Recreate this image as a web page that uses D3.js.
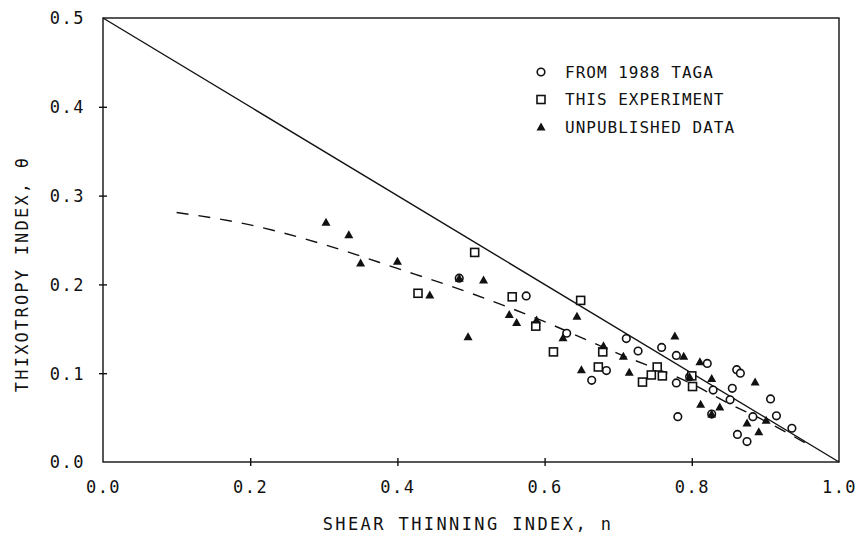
<!DOCTYPE html>
<html>
<head>
<meta charset="utf-8">
<script src="https://cdn.jsdelivr.net/npm/d3@7"></script>
<style>
  html, body { margin: 0; padding: 0; background: #fff; }
  svg text { font-family: "DejaVu Sans Mono", "Liberation Mono", monospace; fill: #111; }
</style>
</head>
<body>
<svg id="chart" width="864" height="537"></svg>
<script>
// Shear thinning index n vs thixotropy index theta
const xTicks = [0.0, 0.2, 0.4, 0.6, 0.8, 1.0];
const yTicks = [0.0, 0.1, 0.2, 0.3, 0.4, 0.5];
const legendLabels = ["FROM 1988 TAGA", "THIS EXPERIMENT", "UNPUBLISHED DATA"];

// FROM 1988 TAGA (open circles)
const tagaN = [0.575, 0.630, 0.711, 0.727, 0.759, 0.779, 0.821, 0.861, 0.866, 0.907, 0.915,
               0.684, 0.664, 0.779, 0.829, 0.855, 0.852, 0.781, 0.883, 0.936, 0.875, 0.862,
               0.484, 0.827, 0.797];
const tagaT = [0.187, 0.145, 0.139, 0.125, 0.129, 0.120, 0.111, 0.104, 0.100, 0.071, 0.052,
               0.103, 0.092, 0.089, 0.081, 0.083, 0.070, 0.051, 0.051, 0.038, 0.023, 0.031,
               0.207, 0.054, 0.096];

// THIS EXPERIMENT (open squares)
const expN = [0.505, 0.428, 0.556, 0.588, 0.649, 0.612, 0.679, 0.673, 0.753, 0.745, 0.760,
              0.733, 0.801, 0.800];
const expT = [0.236, 0.190, 0.186, 0.153, 0.182, 0.124, 0.124, 0.107, 0.107, 0.098, 0.097,
              0.090, 0.085, 0.097];

// UNPUBLISHED DATA (filled triangles)
const unpN = [0.303, 0.334, 0.350, 0.400, 0.444, 0.496, 0.517, 0.552, 0.562, 0.589, 0.644,
              0.625, 0.680, 0.707, 0.777, 0.789, 0.811, 0.886, 0.650, 0.715, 0.827, 0.812,
              0.838, 0.901, 0.875, 0.891, 0.484, 0.827, 0.797];
const unpT = [0.270, 0.256, 0.224, 0.226, 0.188, 0.141, 0.205, 0.166, 0.157, 0.160, 0.164,
              0.140, 0.131, 0.119, 0.142, 0.119, 0.113, 0.090, 0.104, 0.101, 0.094, 0.065,
              0.062, 0.047, 0.044, 0.034, 0.207, 0.054, 0.096];

// Upper bound line theta = (1 - n) / 2
const boundN = [0.0, 1.0];
const boundT = [0.5, 0.0];

// Fitted trend (dashed)
const fitN = [0.10, 0.20, 0.30, 0.40, 0.50, 0.60, 0.70, 0.80, 0.85, 0.90, 0.955];
const fitT = [0.281, 0.267, 0.245, 0.218, 0.190, 0.158, 0.122, 0.088, 0.066, 0.046, 0.021];

const svg = d3.select("#chart");
const plotL = 103, plotR = 839, plotT = 18, plotB = 462;

const x = d3.scaleLinear().domain([0, 1]).range([plotL, plotR]);
const y = d3.scaleLinear().domain([0, 0.5]).range([plotB, plotT]);

svg.append("rect").attr("width", 864).attr("height", 537).attr("fill", "#fff");

// frame
svg.append("rect")
  .attr("x", plotL).attr("y", plotT)
  .attr("width", plotR - plotL).attr("height", plotB - plotT)
  .attr("fill", "none").attr("stroke", "#111").attr("stroke-width", 1.4);

// axes with cross ticks
const xAxis = d3.axisBottom(x).tickValues(xTicks).tickSize(0).tickFormat(d3.format(".1f"));
const gx = svg.append("g").attr("transform", `translate(0,${plotB})`).call(xAxis);
gx.select(".domain").remove();
gx.selectAll(".tick text").attr("dy", 0).attr("y", 31)
  .attr("font-size", 17).style("letter-spacing", "1.5px");
gx.selectAll(".tick").filter(d => d > 0 && d < 1).append("line")
  .attr("y1", -4).attr("y2", 4).attr("stroke", "#111").attr("stroke-width", 1.4);

const yAxis = d3.axisLeft(y).tickValues(yTicks).tickSize(0).tickFormat(d3.format(".1f"));
const gy = svg.append("g").attr("transform", `translate(${plotL},0)`).call(yAxis);
gy.select(".domain").remove();
gy.selectAll(".tick text").attr("x", -18).attr("dy", "0.35em")
  .attr("font-size", 17).style("letter-spacing", "1.5px");
gy.selectAll(".tick").filter(d => d > 0 && d < 0.5).append("line")
  .attr("x1", -4).attr("x2", 4).attr("stroke", "#111").attr("stroke-width", 1.4);

// axis titles
svg.append("text").attr("x", 468).attr("y", 530)
  .attr("text-anchor", "middle").attr("font-size", 17).style("letter-spacing", "2.4px")
  .text("SHEAR THINNING INDEX, n");
svg.append("text")
  .attr("transform", "translate(28,274) rotate(-90)")
  .attr("text-anchor", "middle").attr("font-size", 17).style("letter-spacing", "2.2px")
  .text("THIXOTROPY INDEX, θ");

// lines
const line = d3.line().x(d => x(d[0])).y(d => y(d[1]));
svg.append("path").datum(d3.zip(boundN, boundT)).attr("d", line)
  .attr("fill", "none").attr("stroke", "#111").attr("stroke-width", 1.4);
svg.append("path").datum(d3.zip(fitN, fitT))
  .attr("d", line.curve(d3.curveMonotoneX))
  .attr("fill", "none").attr("stroke", "#111").attr("stroke-width", 1.4)
  .attr("stroke-dasharray", "12,10");

// markers
const sym = {
  circle: (g, cx, cy) => g.append("circle").attr("cx", cx).attr("cy", cy).attr("r", 3.8)
    .attr("fill", "#fff").attr("stroke", "#111").attr("stroke-width", 1.6),
  square: (g, cx, cy) => g.append("rect").attr("x", cx - 4).attr("y", cy - 4)
    .attr("width", 8).attr("height", 8)
    .attr("fill", "#fff").attr("stroke", "#111").attr("stroke-width", 1.6),
  triangle: (g, cx, cy) => g.append("path")
    .attr("d", `M${cx},${cy - 4.5}L${cx + 4.5},${cy + 3.5}L${cx - 4.5},${cy + 3.5}Z`)
    .attr("fill", "#111")
};

const gm = svg.append("g");
d3.zip(tagaN, tagaT).forEach(([n, t]) => sym.circle(gm, x(n), y(t)));
d3.zip(expN, expT).forEach(([n, t]) => sym.square(gm, x(n), y(t)));
d3.zip(unpN, unpT).forEach(([n, t]) => sym.triangle(gm, x(n), y(t)));

// legend
const lg = svg.append("g");
["circle", "square", "triangle"].forEach((s, i) => {
  const cy = 72 + i * 27.5;
  sym[s](lg, 541, cy);
  lg.append("text").attr("x", 565).attr("y", cy).attr("dy", "0.36em")
    .attr("font-size", 16).style("letter-spacing", "1px").text(legendLabels[i]);
});
</script>
</body>
</html>
